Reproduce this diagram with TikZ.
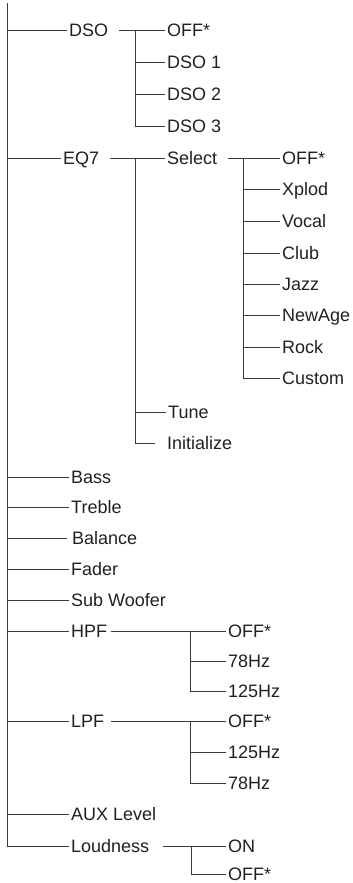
\documentclass[tikz,border=0pt]{standalone}
\usepackage{fontspec}
\setmainfont{Liberation Sans}
\usepackage{tikz}
\usetikzlibrary{calc}
\definecolor{inkgrey}{HTML}{231F20}
\definecolor{wiregrey}{HTML}{3A3A3A}
\tikzset{
  item/.style={anchor=west, inner sep=2pt, text=inkgrey,
               text height=12.9pt, text depth=0pt},
  wire/.style={line width=0.8pt, draw=wiregrey},
}

\begin{document}
\begin{tikzpicture}[x=1pt, y=-1pt, font=\fontsize{18}{20}\selectfont]
\useasboundingbox (0,0) rectangle (353,883);

% ========================= first level ===================================
\coordinate (top) at (7,3);
\node[item] at (67, 30) (dso)   {DSO};
\node[item] at (61,158) (eq)    {EQ7};
\node[item] at (69,477) (bass)  {Bass};
\node[item] at (69,507) (treb)  {Treble};
\node[item] at (70,538) (bal)   {Balance};
\node[item] at (69,569) (fad)   {Fader};
\node[item] at (69,600) (sub)   {Sub Woofer};
\node[item] at (69,631) (hpf)   {HPF};
\node[item] at (69,721) (lpf)   {LPF};
\node[item] at (69,814) (aux)   {AUX Level};
\node[item] at (69,846) (loud)  {Loudness};

\draw[wire] (top) -- (top |- loud);
\foreach \n in {dso,eq,bass,treb,fad,sub,hpf,lpf,aux,loud}
  \draw[wire] (top |- \n) -- (\n.west);
\draw[wire, shorten >=3pt] (top |- bal) -- (bal.west);

% ========================= DSO ===========================================
\node[item] at (165, 30) (dsooff) {OFF*};
\node[item] at (165, 62) (dsoa)   {DSO 1};
\node[item] at (165, 94) (dsob)   {DSO 2};
\node[item] at (165,126) (dsoc)   {DSO 3};
\coordinate (dsobar) at (135,30);

\draw[wire, shorten <=9pt] (dso.east) -- (dsooff.west);
\draw[wire] (dsobar) |- (dsoc.west);
\foreach \n in {dsoa,dsob}
  \draw[wire] (dsobar |- \n) -- (\n.west);

% ========================= EQ7 ===========================================
\node[item] at (165,158) (sel)  {Select};
\node[item] at (166,412) (tune) {Tune};
\node[item] at (165,443) (init) {Initialize};
\coordinate (eqbar) at (135,158);

\draw[wire, shorten <=9pt] (eq.east) -- (sel.west);
\draw[wire, shorten >=10pt] (eqbar) |- (init.west);
\draw[wire] (eqbar |- tune) -- (tune.west);

% --- Select ---
\node[item] at (280,158) (seloff) {OFF*};
\node[item] at (280,189) (xpl)    {Xplod};
\node[item] at (280,221) (voc)    {Vocal};
\node[item] at (280,253) (club)   {Club};
\node[item] at (280,284) (jazz)   {Jazz};
\node[item] at (280,315) (nage)   {NewAge};
\node[item] at (280,347) (rock)   {Rock};
\node[item] at (280,378) (cust)   {Custom};
\coordinate (selbar) at (243,158);

\draw[wire, shorten <=9pt] (sel.east) -- (seloff.west);
\draw[wire] (selbar) |- (cust.west);
\foreach \n in {xpl,voc,club,jazz,nage,rock}
  \draw[wire] (selbar |- \n) -- (\n.west);

% ========================= HPF / LPF =====================================
\node[item] at (226,631) (hpfoff) {OFF*};
\node[item] at (226,661) (hpfa)   {78Hz};
\node[item] at (226,691) (hpfb)   {125Hz};
\coordinate (hpfbar) at (190,631);

\draw[wire, shorten <=2pt] (hpf.east) -- (hpfoff.west);
\draw[wire] (hpfbar) |- (hpfb.west);
\draw[wire] (hpfbar |- hpfa) -- (hpfa.west);

\node[item] at (226,721) (lpfoff) {OFF*};
\node[item] at (226,752) (lpfa)   {125Hz};
\node[item] at (226,783) (lpfb)   {78Hz};
\coordinate (lpfbar) at (190,721);

\draw[wire, shorten <=5pt] (lpf.east) -- (lpfoff.west);
\draw[wire] (lpfbar) |- (lpfb.west);
\draw[wire] (lpfbar |- lpfa) -- (lpfa.west);

% ========================= Loudness ======================================
\node[item] at (226,846) (lon)  {ON};
\node[item] at (226,874) (loff) {OFF*};
\coordinate (loudbar) at (191,846);

\draw[wire, shorten <=12pt] (loud.east) -- (lon.west);
\draw[wire] (loudbar) |- (loff.west);
\end{tikzpicture}
\end{document}
